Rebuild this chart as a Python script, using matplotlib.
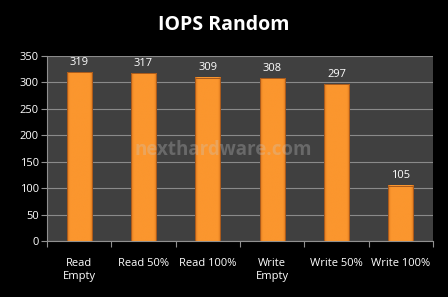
import matplotlib
matplotlib.use("Agg")
import matplotlib.pyplot as plt
import numpy as np
from matplotlib.colors import LinearSegmentedColormap

categories = ["Read\nEmpty", "Read 50%", "Read 100%", "Write\nEmpty", "Write 50%", "Write 100%"]
values = [319, 317, 309, 308, 297, 105]
yticks = [0, 50, 100, 150, 200, 250, 300, 350]

fig = plt.figure(figsize=(4.48, 2.97), dpi=100, facecolor="black")
ax = fig.add_axes([47/448, 1-241/297, (433-47)/448, (241-56)/297])
ax.set_facecolor("#404040")

x = np.arange(len(categories))
bars = ax.bar(x, values, width=0.39, color="#F7922B", linewidth=0, zorder=3)
cmap = LinearSegmentedColormap.from_list("o", ["#C4661E", "#F08A26", "#FB962E"])
t = np.linspace(0, 1, 80)
edge = np.minimum(t, 1 - t)
prof = np.clip(edge / 0.12, 0, 1).reshape(1, -1)
for b in bars:
    bx, by = b.get_x(), b.get_y()
    w, h = b.get_width(), b.get_height()
    ax.imshow(prof, extent=(bx, bx + w, by, by + h), aspect="auto", cmap=cmap,
              vmin=0, vmax=1, zorder=3.5, interpolation="bilinear")
    ax.add_patch(plt.Rectangle((bx, by), w, h, fill=False, edgecolor="#A85A1C", linewidth=0.7, zorder=4))

for xi, v in zip(x, values):
    ax.text(xi, v + 8, str(v), ha="center", va="bottom", color="white", fontsize=8, family="Open Sans")

ax.set_xlim(-0.5, len(categories) - 0.5)
ax.set_ylim(0, 350)
ax.set_yticks(yticks)
ax.set_yticklabels([str(t) for t in yticks], color="white", fontsize=8, family="Open Sans")
ax.set_xticks(np.arange(-0.5, len(categories), 1.0))
ax.set_xticklabels([])
ax.set_xticks(x, minor=True)
ax.set_xticklabels(categories, minor=True, color="white", fontsize=8, family="Open Sans", linespacing=1.3)
ax.tick_params(axis="x", which="minor", length=0, pad=12)
ax.tick_params(axis="x", which="major", length=4, color="#909090", width=0.8)
ax.tick_params(axis="y", length=4, color="#909090", width=0.8, pad=2)
ax.grid(axis="y", color="#8a8a8a", linewidth=0.8, zorder=1)
for s in ["top", "right"]:
    ax.spines[s].set_visible(False)
for s in ["left", "bottom"]:
    ax.spines[s].set_color("#909090")
    ax.spines[s].set_linewidth(0.8)

ax.text(0.456, 0.49, "nexthardware.com", transform=ax.transAxes, ha="center", va="center",
        color="#c8c8c8", alpha=0.3, fontsize=13.5, fontweight="bold", family="Open Sans", zorder=5)

fig.text(0.5, 1 - 25/297, "IOPS Random", ha="center", va="center", color="white",
         fontsize=14, fontweight="bold", family="Open Sans")

fig.savefig("out.png", dpi=100, facecolor="black")
